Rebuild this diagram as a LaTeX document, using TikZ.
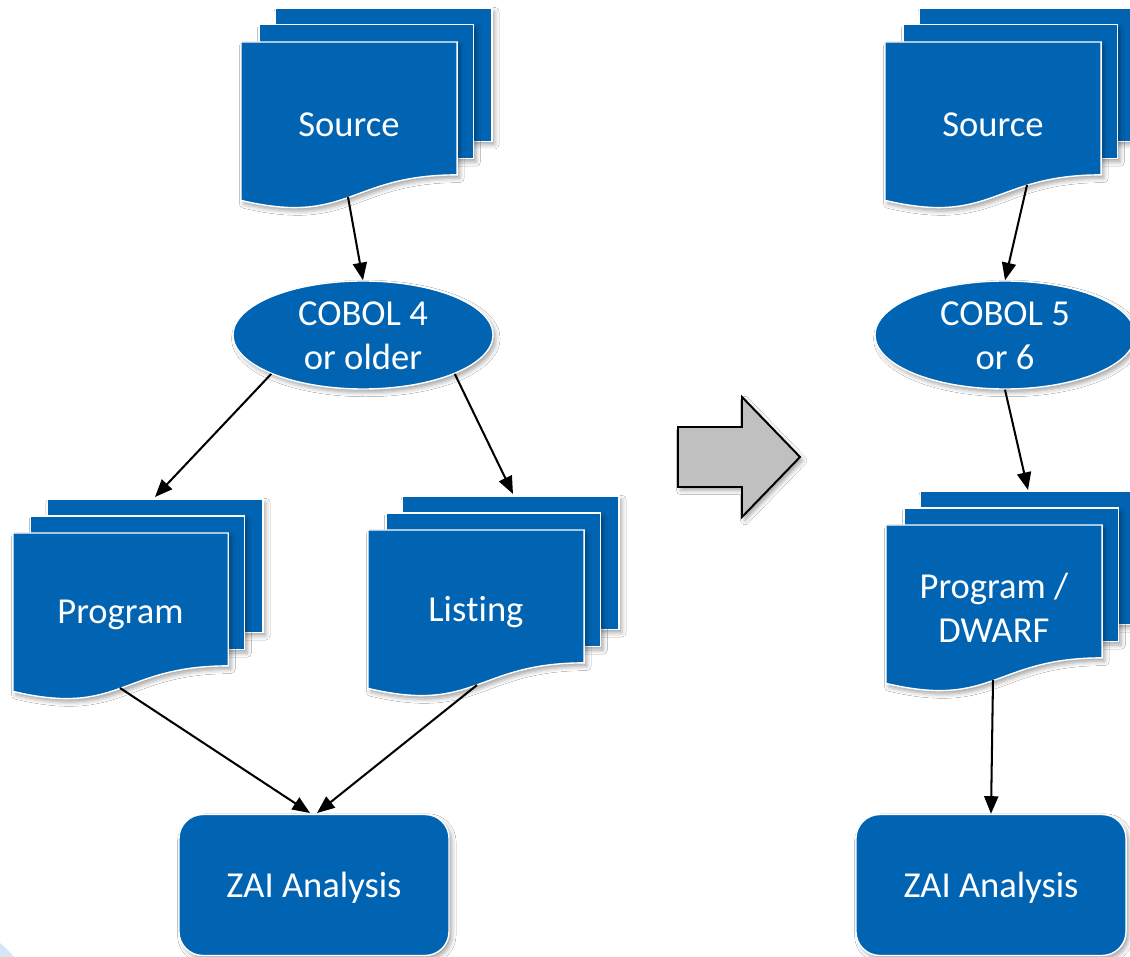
\documentclass[tikz,border=0pt]{standalone}
\usepackage{fontspec}
\setmainfont[RawFeature={-liga;-clig;-calt}]{Carlito}
\usetikzlibrary{arrows.meta,shapes.geometric,shadows.blur}
\definecolor{ibmblue}{RGB}{0,100,178}
\definecolor{arrowgrey}{RGB}{192,192,192}
\definecolor{cornerblue}{RGB}{214,230,245}
\tikzset{
  shd/.style={blur shadow={shadow xshift=2pt,shadow yshift=-2.5pt,shadow blur radius=3pt,shadow opacity=35}},
  page/.style={fill=ibmblue,draw=white,line width=1pt,line join=miter,shd},
  doctext/.style={text=white,align=center,inner sep=0pt,font=\fontsize{26pt}{31.2pt}\selectfont},
  ellbox/.style={ellipse,fill=ibmblue,draw=white,line width=1pt,minimum width=6.5cm,minimum height=2.7cm,inner sep=0pt,shd},
  zaibox/.style={rectangle,rounded corners=17pt,fill=ibmblue,draw=white,line width=1pt,minimum width=6.75cm,minimum height=3.525cm,inner sep=0pt,shd},
  conn/.style={line width=1.45pt,draw=black,-{Triangle[length=12.5pt,width=10pt]}},
  bigarrow/.style={fill=arrowgrey,draw=black,line width=1.4pt,line join=miter,shd}
}
% multidocument: x0 y0 w h name text
\newcommand\multidoc[6]{%
  \def\mdX{#1}\def\mdY{#2}\def\mdW{#3}\def\mdH{#4}%
  \path[page] ({\mdX+\mdW*0.1376},{\mdY}) rectangle ({\mdX+\mdW},{\mdY+\mdH*0.6663});
  \path[page] ({\mdX+\mdW*0.0709},{\mdY+\mdH*0.0840}) rectangle ({\mdX+\mdW*0.9259},{\mdY+\mdH*0.7524});
  \path[page] ({\mdX},{\mdY+\mdH*0.1701}) -- ({\mdX+\mdW*0.8609},{\mdY+\mdH*0.1701}) -- ({\mdX+\mdW*0.8609},{\mdY+\mdH*0.8344})
     .. controls ({\mdX+\mdW*0.4305},{\mdY+\mdH*0.8344}) and ({\mdX+\mdW*0.4305},{\mdY+\mdH*1.0899}) .. ({\mdX},{\mdY+\mdH*0.9621}) -- cycle;
  \node[doctext] (#5) at ({\mdX+\mdW*0.43},{\mdY+\mdH*0.582}) {#6};
}
\begin{document}
\begin{tikzpicture}[x=0.025cm,y=-0.025cm]
\useasboundingbox (0,0) rectangle (1130,957);
\clip (0,0) rectangle (1130,957);
\fill[white] (0,0) rectangle (1130,957);
% faint corner decoration
\fill[cornerblue] (0,943) .. controls (6,948) and (10,952) .. (14,957) -- (0,957) -- cycle;

% ---------- left flow ----------
\multidoc{241}{8}{251}{200}{srcL}{Source}
\node[ellbox] (cobol4) at (363,335) {};
\node[doctext] (cobol4t) at (363,336) {COBOL 4\\or older};
\multidoc{13}{499}{250}{200}{prog}{Program}
\multidoc{368}{496}{251}{200}{list}{Lis\kern0pt t\kern0pt ing}
\node[zaibox] (zaiL) at (314,885) {};
\node[doctext] (zaiLt) at (314,888) {ZAI Analysis};

% ---------- big arrow ----------
\path[bigarrow] (678,427) -- (742,427) -- (742,397) -- (800,457) -- (742,517) -- (742,487) -- (678,487) -- cycle;

% ---------- right flow ----------
\multidoc{885}{8}{251}{200}{srcR}{Source}
\node[ellbox] (cobol5) at (1005,335) {};
\node[doctext] (cobol5t) at (1005,336) {COBOL 5\\or 6};
\multidoc{886}{491}{251}{200}{dwarf}{Program /\\DWARF}
\node[zaibox] (zaiR) at (991,885) {};
\node[doctext] (zaiRt) at (991,888) {ZAI Analysis};

% ---------- connector end points ----------
\coordinate (srcLout) at (348,197);
\coordinate (progIn) at (155,497);
\coordinate (listIn) at (513,494);
\coordinate (progOut) at (120,688);
\coordinate (listOut) at (477,685);
\coordinate (zaiLin1) at (310,813);
\coordinate (zaiLin2) at (317,813);
\coordinate (srcRout) at (1027,185);
\coordinate (dwarfIn) at (1028,490);
\coordinate (dwarfOut) at (993,680);

% ---------- connectors ----------
\draw[conn] (srcLout) -- (cobol4.north);
\draw[conn] (cobol4.203) -- (progIn);
\draw[conn] (cobol4.-23) -- (listIn);
\draw[conn] (progOut) -- (zaiLin1);
\draw[conn] (listOut) -- (zaiLin2);
\draw[conn] (srcRout) -- (cobol5.north);
\draw[conn] (cobol5.south) -- (dwarfIn);
\draw[conn] (dwarfOut) -- (zaiR.north);
\end{tikzpicture}
\end{document}
